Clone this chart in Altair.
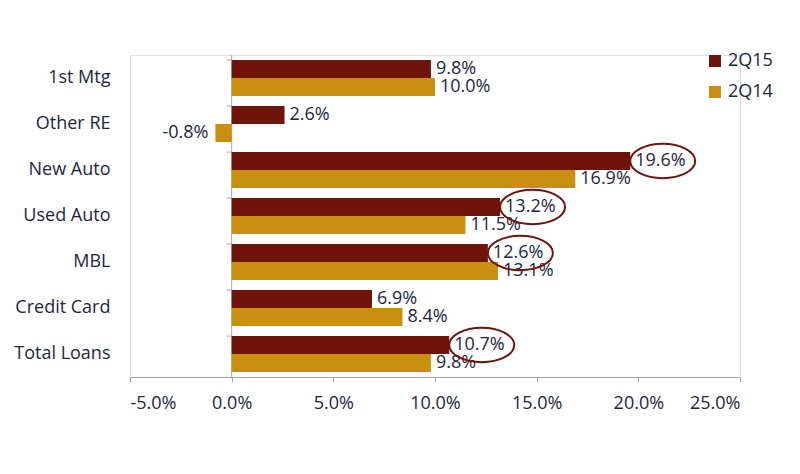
import altair as alt
import pandas as pd

categories = ['1st Mtg', 'Other RE', 'New Auto', 'Used Auto', 'MBL', 'Credit Card', 'Total Loans']
series_names = ['2Q15', '2Q14']
values_2q15 = [9.8, 2.6, 19.6, 13.2, 12.6, 6.9, 10.7]
values_2q14 = [10.0, -0.8, 16.9, 11.5, 13.1, 8.4, 9.8]
circled = ['New Auto', 'Used Auto', 'MBL', 'Total Loans']
x_ticks = [-5, 0, 5, 10, 15, 20, 25]

rows = []
for c, a, b in zip(categories, values_2q15, values_2q14):
    rows.append({'cat': c, 'series': '2Q15', 'value': a, 'label': f'{a:.1f}%'})
    rows.append({'cat': c, 'series': '2Q14', 'value': b, 'label': f'{b:.1f}%'})
df = pd.DataFrame(rows)
circ = df[(df['series'] == '2Q15') & df['cat'].isin(circled)]
cat_df = pd.DataFrame({'cat': categories})

FONT = 'Open Sans'
FS = 18
TEXT = '#1C2641'
DARK = '#6E140B'
GOLD = '#C98F0E'
GRAY = '#A6A6A6'

xscale = alt.Scale(domain=[-5, 25], nice=False, zero=False)
yscale = alt.Scale(domain=categories, paddingInner=0.22, paddingOuter=0.11)

x_enc = alt.X('value:Q', scale=xscale,
              axis=alt.Axis(values=x_ticks, title=None, grid=False,
                            labelExpr="replace(format(datum.value, '.1f'), '\u2212', '-') + '%'",
                            domainColor=GRAY, tickColor=GRAY, tickSize=5, labelPadding=12,
                            labelFont=FONT, labelFontSize=FS, labelColor=TEXT))
y_axis = alt.Axis(title=None, domain=False, ticks=False, tickSize=0, labelPadding=20,
                  labelFont=FONT, labelFontSize=FS, labelColor=TEXT)
y_enc = alt.Y('cat:N', scale=yscale, sort=categories, axis=y_axis)
yoff = alt.YOffset('series:N', sort=series_names,
                   scale=alt.Scale(domain=series_names, paddingInner=0, paddingOuter=0))
color = alt.Color('series:N', scale=alt.Scale(domain=series_names, range=[DARK, GOLD]),
                  legend=alt.Legend(title=None, orient='none', legendX=576, legendY=-3,
                                    symbolType='square', symbolSize=144, symbolStrokeWidth=0,
                                    labelFont=FONT, labelFontSize=FS, labelColor=TEXT,
                                    labelOffset=4, rowPadding=13))

zero_line = alt.Chart(pd.DataFrame({'z': [0]})).mark_rule(color=GRAY, strokeWidth=1).encode(
    x=alt.datum(0))
zero_ticks = alt.Chart(cat_df).mark_rule(color=GRAY, strokeWidth=1).encode(
    y=alt.Y('cat:N', scale=yscale, sort=categories, bandPosition=0, axis=y_axis),
    x=alt.datum(0), x2=alt.datum(-0.25))

bars = alt.Chart(df).mark_bar().encode(x=x_enc, y=y_enc, yOffset=yoff, color=color)

lab_pos = alt.Chart(df).transform_filter('datum.value >= 0').mark_text(
    align='left', baseline='middle', dx=5, font=FONT, fontSize=FS, color=TEXT
).encode(x=x_enc, y=y_enc, yOffset=yoff, text='label:N')
lab_neg = alt.Chart(df).transform_filter('datum.value < 0').mark_text(
    align='right', baseline='middle', dx=-7, font=FONT, fontSize=FS, color=TEXT
).encode(x=x_enc, y=y_enc, yOffset=yoff, text='label:N')

ELLIPSE = 'M0,0 A1,0.53 0 1,1 2,0 A1,0.53 0 1,1 0,0 Z'
ellipses = alt.Chart(circ).mark_point(shape=ELLIPSE, size=4225, filled=False,
                                      color=DARK, strokeWidth=2, opacity=1).encode(
    x=x_enc, y=y_enc, yOffset=yoff)

chart = alt.layer(zero_line, zero_ticks, bars, lab_pos, lab_neg, ellipses).properties(
    width=610, height=322,
    autosize=alt.AutoSizeParams(type='none'),
    padding={'left': 122, 'top': 47, 'right': 50, 'bottom': 90},
).configure_view(stroke=None).configure(background='white')

chart.save('out.html', embed_options={'renderer': 'svg', 'actions': False})
